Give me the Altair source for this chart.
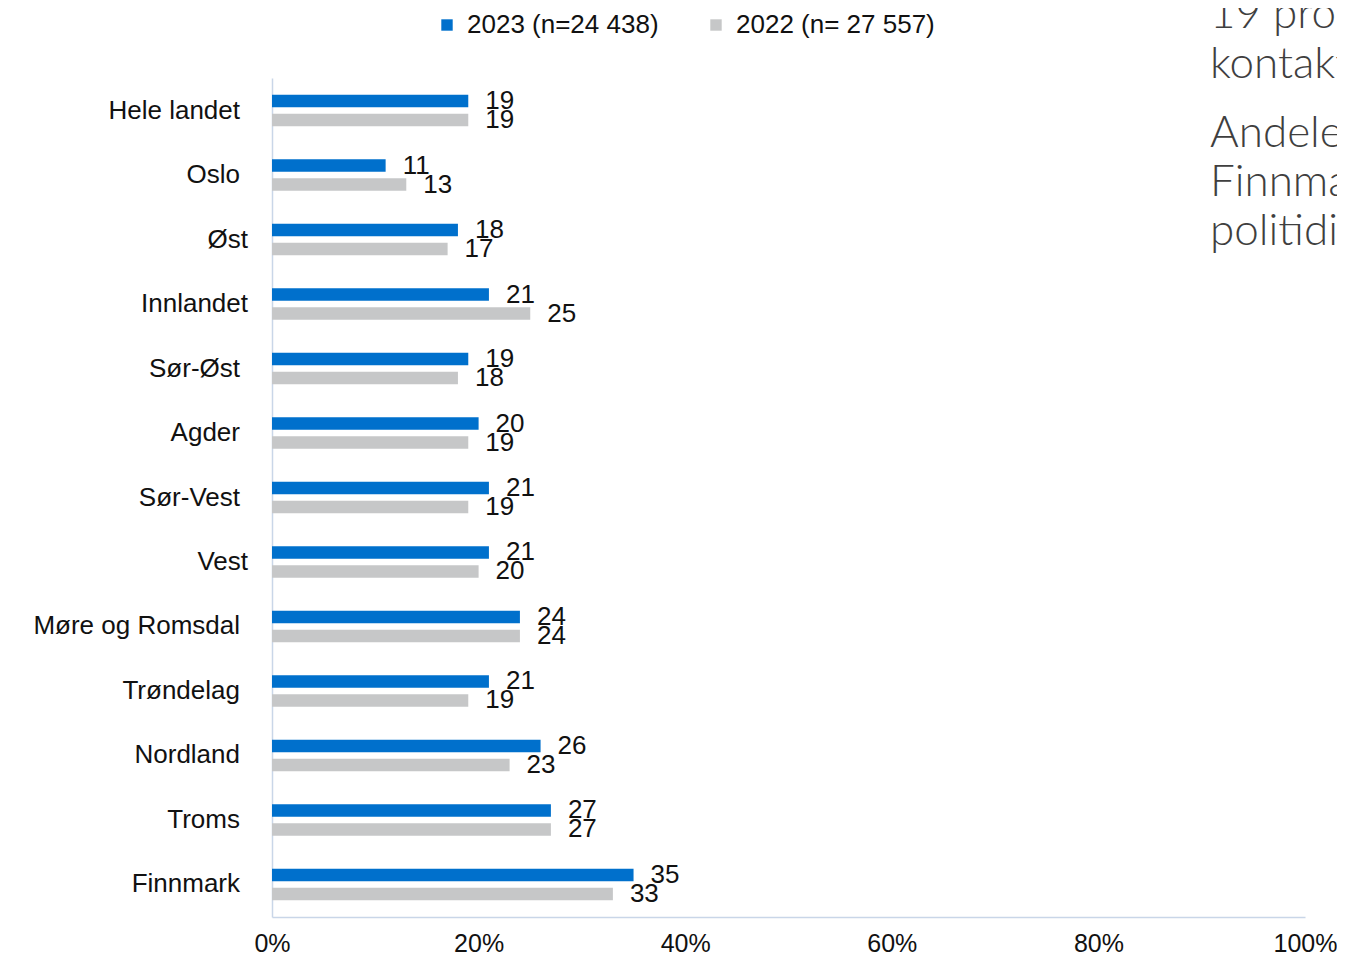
import altair as alt
import pandas as pd

regions = ["Hele landet", "Oslo", "Øst", "Innlandet", "Sør-Øst", "Agder", "Sør-Vest",
           "Vest", "Møre og Romsdal", "Trøndelag", "Nordland", "Troms", "Finnmark"]
v2023 = [19, 11, 18, 21, 19, 20, 21, 21, 24, 21, 26, 27, 35]
v2022 = [19, 13, 17, 25, 18, 19, 19, 20, 24, 19, 23, 27, 33]
series = ["2023 (n=24 438)", "2022 (n= 27 557)"]
colors = ["#0070CC", "#C6C7C8"]
ticks = [0, 20, 40, 60, 80, 100]
note_par1 = ["19 prosent", "kontakt"]
note_par2 = ["Andelen", "Finnmark", "politidistrikt"]
wide_labels = ["Øst", "Innlandet", "Vest"]

rows = []
for r, a, b in zip(regions, v2023, v2022):
    rows.append({"region": r, "series": series[0], "value": a})
    rows.append({"region": r, "series": series[1], "value": b})
df = pd.DataFrame(rows)
cat_df = pd.DataFrame({"region": regions,
                       "wide": [r in wide_labels for r in regions]})

FONT = "Liberation Sans, Arial, sans-serif"
AXIS_COLOR = "#C9D6E8"
TXT = "#111111"

y_enc = alt.Y("region:N", sort=regions,
              scale=alt.Scale(paddingInner=0.5116, paddingOuter=0.26),
              axis=alt.Axis(title=None, ticks=False, tickSize=0, labels=False,
                            domainColor=AXIS_COLOR, domainWidth=1.5, grid=False))

base = alt.Chart(df).encode(
    y=y_enc,
    yOffset=alt.YOffset("series:N", sort=series,
                        scale=alt.Scale(paddingInner=0.342, paddingOuter=0)),
    x=alt.X("value:Q", scale=alt.Scale(domain=[0, 100], nice=False),
            axis=alt.Axis(title=None, values=ticks, labelExpr="datum.value + '%'",
                          grid=False, ticks=False, tickSize=0, labelFontSize=25,
                          labelFont=FONT, labelColor=TXT, labelPadding=14,
                          labelFlush=False, domainColor=AXIS_COLOR, domainWidth=1.5)),
)

bars = base.mark_bar().encode(
    color=alt.Color("series:N", sort=series,
                    scale=alt.Scale(domain=series, range=colors),
                    legend=alt.Legend(title=None, orient="none", direction="horizontal",
                                      legendX=162, legendY=-66, symbolType="square",
                                      symbolSize=130, symbolStrokeWidth=0,
                                      labelFontSize=26, labelFont=FONT, labelLimit=0,
                                      labelColor=TXT, labelOffset=7,
                                      columnPadding=44, padding=0))
)

labels = base.mark_text(align="left", baseline="middle", dx=17, fontSize=26,
                        font=FONT, color=TXT).encode(text="value:Q")

cat_base = alt.Chart(cat_df).mark_text(
    align="right", baseline="middle", fontSize=26, font=FONT, color=TXT
).encode(y=alt.Y("region:N", sort=regions), text="region:N")

cats_wide = cat_base.transform_filter(alt.datum.wide).encode(x=alt.value(-24))
cats_norm = cat_base.transform_filter(~alt.datum.wide).encode(x=alt.value(-32))

note1 = alt.Chart(pd.DataFrame({"t": [0]})).mark_text(
    align="left", baseline="alphabetic", fontSize=44, font="Lato",
    fontWeight=300, color="#3F3F3F", lineHeight=50
).encode(x=alt.value(938), y=alt.value(-50), text=alt.value(note_par1))

note2 = alt.Chart(pd.DataFrame({"t": [0]})).mark_text(
    align="left", baseline="alphabetic", fontSize=44, font="Lato",
    fontWeight=300, color="#3F3F3F", lineHeight=49
).encode(x=alt.value(938), y=alt.value(69), text=alt.value(note_par2))

chart = alt.layer(bars, labels, cats_wide, cats_norm, note1, note2).properties(
    width=1033, height=839,
    autosize=alt.AutoSizeParams(type="none"),
    padding={"left": 264, "top": 70, "right": 32, "bottom": 41},
    background="white",
).configure_view(stroke=None)

chart.save("out.html", embed_options={"renderer": "svg", "actions": False})
